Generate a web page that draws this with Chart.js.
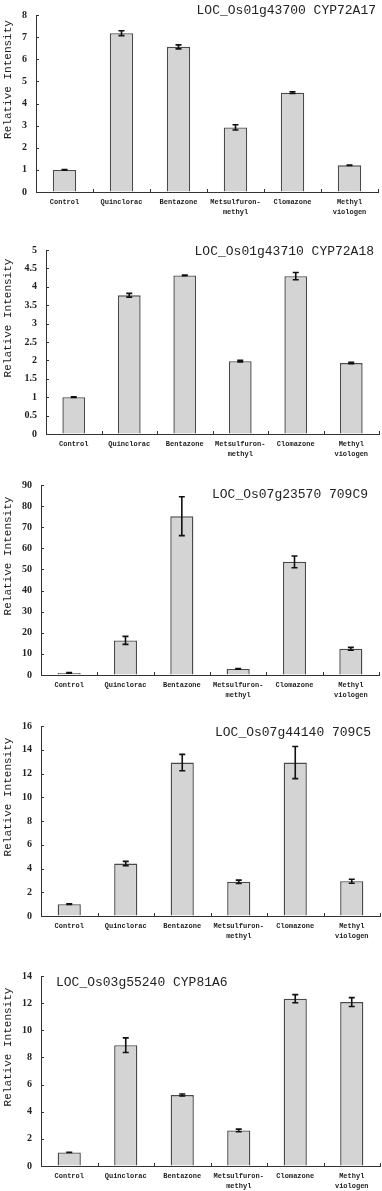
<!DOCTYPE html>
<html>
<head>
<meta charset="utf-8">
<script src="https://cdn.jsdelivr.net/npm/chart.js@4.4.1/dist/chart.umd.min.js"></script>
<style>
  html, body { margin: 0; padding: 0; background: #fff; }
  body { width: 382px; height: 1191px; position: relative; overflow: hidden; }
  .panel { position: absolute; left: 0; width: 382px; }
</style>
</head>
<body>
<div class="panel" style="top:0px;height:235px"><canvas id="c1"></canvas></div>
<div class="panel" style="top:235px;height:235px"><canvas id="c2"></canvas></div>
<div class="panel" style="top:470px;height:235px"><canvas id="c3"></canvas></div>
<div class="panel" style="top:705px;height:235px"><canvas id="c4"></canvas></div>
<div class="panel" style="top:940px;height:251px"><canvas id="c5"></canvas></div>
<script>
// treatments (x axis)
const categories = ["Control", "Quinclorac", "Bentazone", ["Metsulfuron-", "methyl"], "Clomazone", ["Methyl", "viologen"]];

// relative intensity + error, one pair per gene
const cyp72a17 = [1.0, 7.18, 6.56, 2.92, 4.49, 1.21];
const cyp72a17Err = [0.01, 0.11, 0.09, 0.12, 0.04, 0.01];

const cyp72a18 = [1.0, 3.77, 4.31, 1.98, 4.29, 1.93];
const cyp72a18Err = [0.01, 0.05, 0.01, 0.02, 0.10, 0.02];

const c709c9 = [1.0, 16.4, 75.2, 2.9, 53.6, 12.4];
const c709c9Err = [0.2, 1.9, 9.2, 0.2, 2.8, 0.7];

const c709c5 = [1.0, 4.42, 12.92, 2.88, 12.92, 2.93];
const c709c5Err = [0.02, 0.18, 0.69, 0.14, 1.35, 0.17];

const cyp81a6 = [1.0, 8.9, 5.23, 2.62, 12.33, 12.08];
const cyp81a6Err = [0.01, 0.54, 0.07, 0.1, 0.3, 0.33];

// y axis ranges
const yMax = [8, 5, 90, 16, 14];
const yStep = [1, 0.5, 10, 2, 2];

const titles = ["LOC_Os01g43700 CYP72A17", "LOC_Os01g43710 CYP72A18", "LOC_Os07g23570 709C9", "LOC_Os07g44140 709C5", "LOC_Os03g55240 CYP81A6"];

const INK = "#222";

// layout of each panel (px, relative to its own canvas)
const panels = [
  { id: "c1", h: 235, left: 36, right: 378, top: 5, bottom: 192, tx: 376, ty: 11, talign: "right", vals: cyp72a17, errs: cyp72a17Err },
  { id: "c2", h: 235, left: 46, right: 379, top: 10, bottom: 199, tx: 374, ty: 17, talign: "right", vals: cyp72a18, errs: cyp72a18Err },
  { id: "c3", h: 235, left: 41, right: 379, top: 14, bottom: 205, tx: 212, ty: 25, talign: "left", vals: c709c9, errs: c709c9Err },
  { id: "c4", h: 235, left: 41, right: 380, top: 21, bottom: 211, tx: 215, ty: 28, talign: "left", vals: c709c5, errs: c709c5Err },
  { id: "c5", h: 251, left: 41, right: 380, top: 36, bottom: 226, tx: 56, ty: 43, talign: "left", vals: cyp81a6, errs: cyp81a6Err },
];

const X_AXIS_H = 30;

// error bars, inward ticks, gene title and y title
const decor = {
  id: "decor",
  afterDatasetsDraw(chart) {
    const ctx = chart.ctx;
    const ds = chart.data.datasets[0];
    const meta = chart.getDatasetMeta(0);
    const y = chart.scales.y;
    ctx.save();
    ctx.strokeStyle = "#111";
    ctx.lineWidth = 1.6;
    meta.data.forEach((bar, i) => {
      const v = ds.data[i], e = ds.errors[i];
      const top = y.getPixelForValue(v + e);
      const bot = y.getPixelForValue(v - e);
      ctx.beginPath();
      ctx.moveTo(bar.x, top); ctx.lineTo(bar.x, bot);
      ctx.moveTo(bar.x - 3, top); ctx.lineTo(bar.x + 3, top);
      ctx.moveTo(bar.x - 3, bot); ctx.lineTo(bar.x + 3, bot);
      ctx.stroke();
    });
    ctx.restore();
  },
  afterDraw(chart) {
    const ctx = chart.ctx;
    const area = chart.chartArea;
    const x = chart.scales.x, y = chart.scales.y;
    const p = chart.options.plugins.decor;
    ctx.save();
    ctx.strokeStyle = "#333";
    ctx.lineWidth = 1;
    ctx.beginPath();
    y.ticks.forEach(t => {
      const py = Math.round(y.getPixelForValue(t.value)) + 0.5;
      ctx.moveTo(area.left, py); ctx.lineTo(area.left + 3, py);
    });
    for (let i = 1; i <= categories.length; i++) {
      const px = Math.round(x.getPixelForValue(i - 0.5)) + 0.5;
      ctx.moveTo(px, area.bottom); ctx.lineTo(px, area.bottom - 3);
    }
    ctx.stroke();

    ctx.fillStyle = INK;
    ctx.font = "13px 'Liberation Mono'";
    ctx.textAlign = p.align;
    ctx.textBaseline = "middle";
    ctx.fillText(p.title, p.x, p.y);

    ctx.translate(8, (area.top + area.bottom) / 2 - 24);
    ctx.rotate(-Math.PI / 2);
    ctx.textAlign = "center";
    ctx.font = "11px 'Liberation Mono'";
    ctx.fillText("Relative Intensity", 0, 0);
    ctx.restore();
  }
};

panels.forEach((p, k) => {
  new Chart(document.getElementById(p.id), {
    type: "bar",
    data: {
      labels: categories,
      datasets: [{
        data: p.vals,
        errors: p.errs,
        backgroundColor: "#d4d4d4",
        borderColor: "#4a4a4a",
        borderWidth: 1.4,
        categoryPercentage: 1.0,
        barPercentage: 0.41,
      }],
    },
    options: {
      responsive: true,
      maintainAspectRatio: false,
      animation: false,
      events: [],
      layout: {
        padding: { top: p.top, left: 0, right: 382 - p.right, bottom: p.h - p.bottom - X_AXIS_H },
      },
      plugins: {
        legend: { display: false },
        tooltip: { enabled: false },
        decor: { title: titles[k], x: p.tx, y: p.ty, align: p.talign },
      },
      scales: {
        x: {
          afterFit: s => { s.height = X_AXIS_H; },
          grid: { drawOnChartArea: false, drawTicks: false },
          border: { color: "#333", width: 1 },
          ticks: {
            color: INK,
            padding: 6,
            maxRotation: 0,
            autoSkip: false,
            font: { family: "'Liberation Mono'", size: 7, weight: "bold", lineHeight: 1.35 },
          },
        },
        y: {
          min: 0,
          max: yMax[k],
          afterFit: s => { s.width = p.left; },
          grid: { drawOnChartArea: false, drawTicks: false },
          border: { color: "#333", width: 1 },
          ticks: {
            stepSize: yStep[k],
            color: INK,
            padding: 9,
            callback: v => String(v),
            font: { family: "'Liberation Serif'", size: 10, weight: "bold" },
          },
        },
      },
    },
    plugins: [decor],
  });
});
</script>
</body>
</html>
